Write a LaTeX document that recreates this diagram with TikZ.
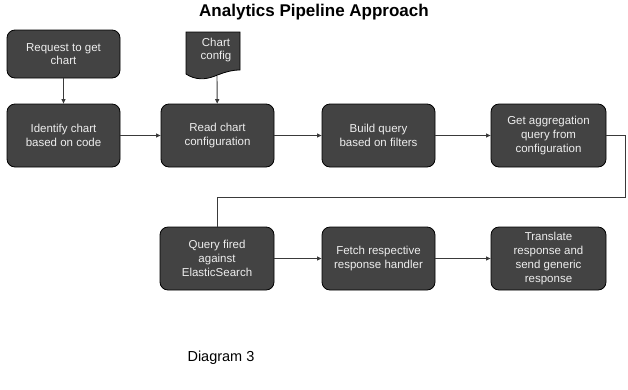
\documentclass[tikz,border=0pt]{standalone}
\usepackage{fontspec}
\setmainfont{Liberation Sans}
\usetikzlibrary{arrows.meta}
\definecolor{boxfill}{HTML}{434343}
\definecolor{boxtext}{HTML}{EEEEEE}
\definecolor{linkgray}{HTML}{3A3A3A}
\begin{document}
\begin{tikzpicture}[x=1pt,y=-1pt,
  procbox/.style={draw=black, line width=0.8pt, fill=boxfill, rounded corners=8pt,
    text=boxtext, align=center, inner sep=2pt,
    font=\fontsize{11.5}{13.8}\selectfont,
    minimum width=113pt, minimum height=63pt},
  link/.style={draw=linkgray, line width=0.9pt, -{Triangle[length=4.5pt,width=4pt]}}]
\useasboundingbox (0,0) rectangle (628,389);

% title
\node[font=\fontsize{17}{20}\bfseries\selectfont] (title) at (314,12) {Analytics Pipeline Approach};

% top row
\node[procbox, minimum height=48pt] (req) at (63.5,54) {Request to get\\chart};
\node[procbox] (ident) at (63.5,135.5) {Identify chart\\based on code};
\node[procbox] (read) at (217.5,135.5) {Read chart\\configuration};
\node[procbox] (build) at (378.5,135.5) {Build query\\based on filters};
\node[procbox, minimum width=115pt] (agg) at (548.5,135.5) {Get aggregation\\query from\\configuration};

% document shape for the chart config
\fill[boxfill, draw=black, line width=0.8pt]
  (186,32) -- (240,32) -- (240,70)
  .. controls (232,70) and (225,72) .. (215,76)
  .. controls (205,80) and (195,80) .. (186,74) -- cycle;
\node[text=boxtext, align=center, font=\fontsize{11.5}{13.8}\selectfont] (cfg) at (216,50) {Chart\\config};
\coordinate (cfgbot) at (217,76);

% bottom row
\node[procbox, minimum width=114pt] (query) at (217,258.5) {Query fired\\against\\ElasticSearch};
\node[procbox] (fetch) at (378.5,258.5) {Fetch respective\\response handler};
\node[procbox, minimum width=115pt] (trans) at (548.5,258.5) {Translate\\response and\\send generic\\response};

% connectors
\draw[link] (req) -- (ident);
\draw[link] (cfgbot) -- (read);
\draw[link] (ident) -- (read);
\draw[link] (read) -- (build);
\draw[link] (build) -- (agg);
\draw[line width=0.9pt, draw=linkgray] (agg.east) -- (625,135.5) -- (625,197) -- (217,197) -- (query.north);
\draw[link] (query) -- (fetch);
\draw[link] (fetch) -- (trans);

% caption
\node[anchor=west, font=\fontsize{14.5}{17}\selectfont] (caption) at (184,357.5) {Diagram 3};
\end{tikzpicture}
\end{document}
